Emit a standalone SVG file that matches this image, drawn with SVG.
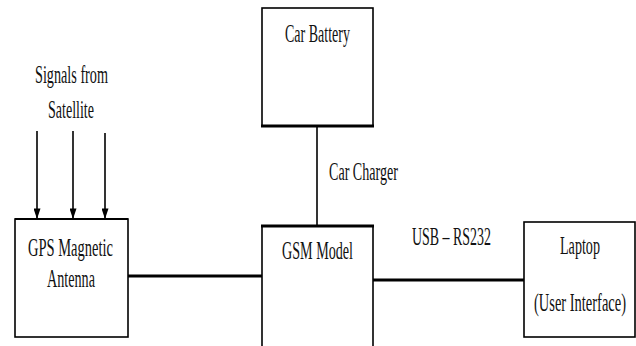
<svg xmlns="http://www.w3.org/2000/svg" width="636" height="346" viewBox="0 0 636 346">
<style>
text{font-family:"Liberation Serif","Times New Roman","DejaVu Serif",serif;font-size:26px;fill:#111;text-anchor:middle}
.box{fill:#fff;stroke:#000;stroke-width:1.6}
.edge{stroke:#000;stroke-width:3;fill:none}
.thin{stroke:#000;stroke-width:1.6;fill:none}
</style>
<defs>
<marker id="ah2" viewBox="0 0 12 8" refX="12" refY="4" markerWidth="12" markerHeight="7" markerUnits="userSpaceOnUse" orient="auto">
<path d="M0,0 L12,4 L0,8 Z" fill="#000"/>
</marker>
</defs>
<rect width="636" height="346" fill="#fff"/>
<g id="connectors">
<line class="thin" x1="37" y1="131" x2="37" y2="219" marker-end="url(#ah2)"/>
<line class="thin" x1="73" y1="131" x2="73" y2="219" marker-end="url(#ah2)"/>
<line class="thin" x1="105" y1="133" x2="105" y2="219" marker-end="url(#ah2)"/>
<line class="edge" x1="128" y1="276" x2="262" y2="276"/>
<line class="edge" x1="373" y1="280" x2="525" y2="280"/>
<line class="thin" x1="317" y1="127" x2="317" y2="227"/>
<text x="363.5" y="180" textLength="69" lengthAdjust="spacingAndGlyphs">Car Charger</text>
<text x="451.5" y="245" textLength="79" lengthAdjust="spacingAndGlyphs">USB – RS232</text>
</g>
<g id="signals">
<text x="71.5" y="83" textLength="73" lengthAdjust="spacingAndGlyphs">Signals from</text>
<text x="71" y="118" textLength="46" lengthAdjust="spacingAndGlyphs">Satellite</text>
</g>
<g id="gps">
<rect class="box" x="15" y="219" width="113" height="118"/>
<line x1="15" y1="219" x2="128" y2="219" stroke="#000" stroke-width="2.2"/>
<text x="70.5" y="256" textLength="85" lengthAdjust="spacingAndGlyphs">GPS Magnetic</text>
<text x="71" y="287" textLength="48" lengthAdjust="spacingAndGlyphs">Antenna</text>
</g>
<g id="battery">
<rect class="box" x="262" y="8" width="111" height="118"/>
<line x1="261" y1="126" x2="374" y2="126" stroke="#000" stroke-width="3"/>
<text x="317.5" y="42" textLength="65" lengthAdjust="spacingAndGlyphs">Car Battery</text>
</g>
<g id="gsm">
<rect class="box" x="262" y="226" width="111" height="140"/>
<line x1="261" y1="226" x2="374" y2="226" stroke="#000" stroke-width="3"/>
<text x="317.5" y="259" textLength="71" lengthAdjust="spacingAndGlyphs">GSM Model</text>
</g>
<g id="laptop">
<rect class="box" x="524" y="222" width="111" height="115"/>
<text x="580" y="254" textLength="40" lengthAdjust="spacingAndGlyphs">Laptop</text>
<text x="580" y="311" textLength="92" lengthAdjust="spacingAndGlyphs">(User Interface)</text>
</g>
</svg>
